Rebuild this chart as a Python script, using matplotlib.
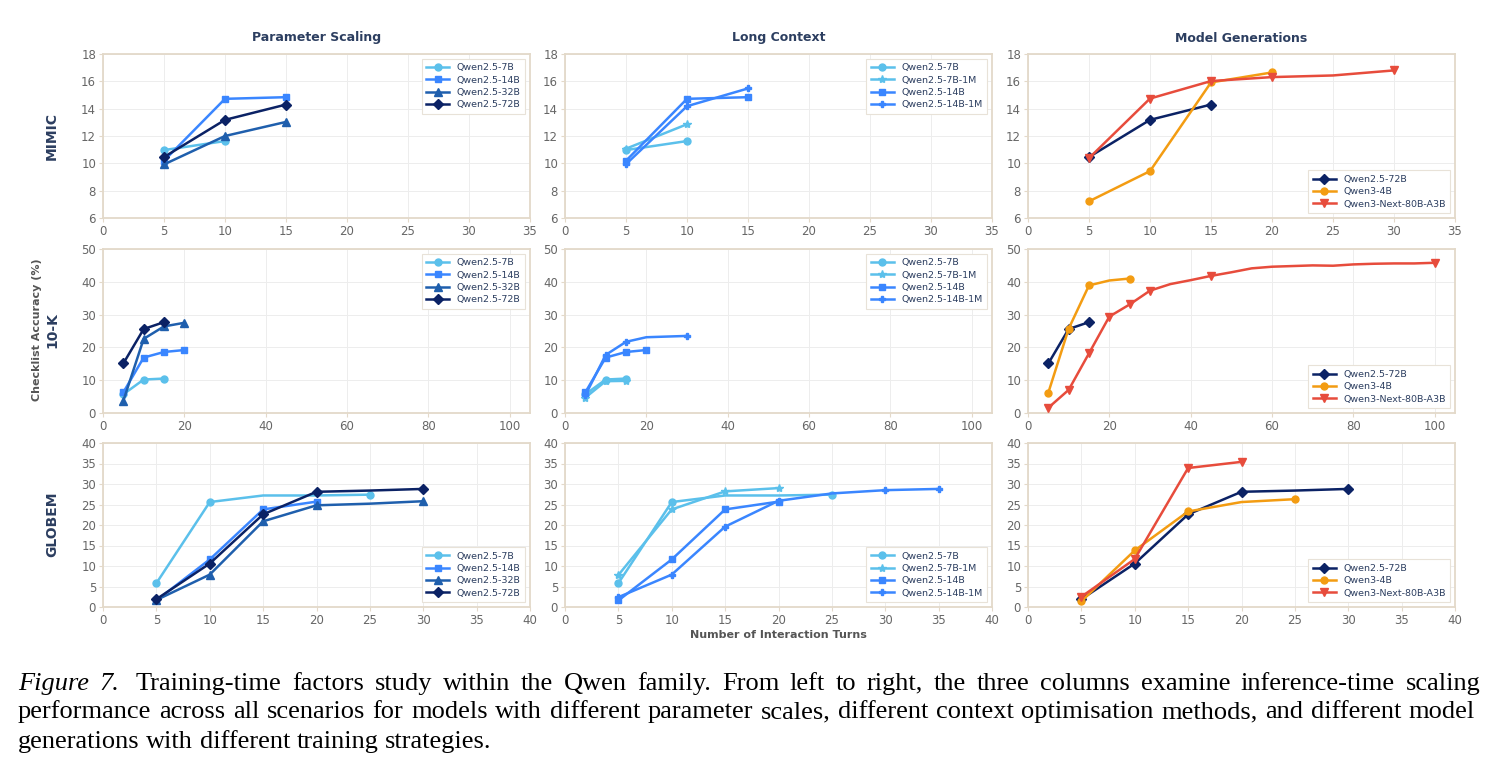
import matplotlib
matplotlib.use("Agg")
import matplotlib.pyplot as plt

# x positions (interaction turns)
turns = [5, 10, 15, 20, 25, 30, 35]
turns_10k_next = list(range(5, 105, 5))

# MIMIC
mimic_7b = [10.97, 11.63]
mimic_7b_1m = [11.07, 12.86]
mimic_14b = [10.19, 14.72, 14.84]
mimic_14b_1m = [9.94, 14.18, 15.48]
mimic_32b = [9.92, 12.0, 13.03]
mimic_72b = [10.46, 13.18, 14.3]
mimic_q3_4b = [7.22, 9.43, 15.92, 16.65]
mimic_next = [10.38, 14.74, 16.02, 16.31, 16.43, 16.8]

# 10-K
tenk_7b = [5.7, 10.2, 10.5]
tenk_7b_1m = [4.7, 9.7, 9.8]
tenk_14b = [6.3, 16.9, 18.6, 19.2]
tenk_14b_1m = [5.4, 17.7, 21.7, 23.1, 23.3, 23.5]
tenk_32b = [3.7, 22.6, 26.4, 27.5]
tenk_72b = [15.1, 25.6, 27.7]
tenk_q3_4b = [6.2, 25.7, 38.9, 40.4, 41.0]
tenk_next = [1.6, 7.05, 18.2, 29.4, 33.1, 37.3, 39.3, 40.5, 41.8, 42.9,
             44.1, 44.6, 44.8, 45.0, 44.9, 45.3, 45.5, 45.6, 45.6, 45.8]

# GLOBEM
globem_7b = [5.8, 25.6, 27.2, 27.2, 27.4]
globem_7b_1m = [7.8, 23.8, 28.2, 29.0]
globem_14b = [1.6, 11.6, 23.8, 25.7]
globem_14b_1m = [2.4, 7.9, 19.6, 25.9, 27.7, 28.5, 28.8]
globem_32b = [1.7, 7.9, 20.9, 24.8, 25.2, 25.8]
globem_72b = [1.9, 10.6, 22.6, 28.1, 28.4, 28.8]
globem_q3_4b = [1.4, 13.8, 23.3, 25.6, 26.3]
globem_next = [2.5, 11.7, 33.9, 35.4]

caption_lines = [
    'Training-time factors study within the Qwen family. From left to right, the three columns '
    'examine inference-time scaling',
    'performance across all scenarios for models with different parameter scales, different context '
    'optimisation methods, and different model',
    'generations with different training strategies.',
]

# model styles: colour, marker, marker size
styles = {
    'Qwen2.5-7B': ('#5BC0EB', 'o', 5),
    'Qwen2.5-7B-1M': ('#5BC0EB', '*', 6),
    'Qwen2.5-14B': ('#3A86FF', 's', 5),
    'Qwen2.5-14B-1M': ('#3A86FF', 'P', 5),
    'Qwen2.5-32B': ('#1F5FAD', '^', 5.5),
    'Qwen2.5-72B': ('#0B2265', 'D', 5),
    'Qwen3-4B': ('#F39C12', 'o', 5),
    'Qwen3-Next-80B-A3B': ('#E74C3C', 'v', 6),
}

NAVY = '#2C3E60'
GRAY = '#555555'
SPINE = '#E3D9C9'

fig = plt.figure(figsize=(14.91, 7.73), dpi=100)

lefts = [103, 565, 1028]
tops = [54, 249, 443]
W, H = 427, 164
axs = [[fig.add_axes([l / 1491, 1 - (t + H) / 773, W / 1491, H / 773]) for l in lefts] for t in tops]

# (name, x, y, markevery)
panels = [
    [
        [('Qwen2.5-7B', turns, mimic_7b, None), ('Qwen2.5-14B', turns, mimic_14b, None),
         ('Qwen2.5-32B', turns, mimic_32b, None), ('Qwen2.5-72B', turns, mimic_72b, None)],
        [('Qwen2.5-7B', turns, mimic_7b, None), ('Qwen2.5-7B-1M', turns, mimic_7b_1m, None),
         ('Qwen2.5-14B', turns, mimic_14b, None), ('Qwen2.5-14B-1M', turns, mimic_14b_1m, None)],
        [('Qwen2.5-72B', turns, mimic_72b, None), ('Qwen3-4B', turns, mimic_q3_4b, None),
         ('Qwen3-Next-80B-A3B', turns, mimic_next, [0, 1, 2, 3, 5])],
    ],
    [
        [('Qwen2.5-7B', turns, tenk_7b, None), ('Qwen2.5-14B', turns, tenk_14b, None),
         ('Qwen2.5-32B', turns, tenk_32b, None), ('Qwen2.5-72B', turns, tenk_72b, None)],
        [('Qwen2.5-7B', turns, tenk_7b, None), ('Qwen2.5-7B-1M', turns, tenk_7b_1m, None),
         ('Qwen2.5-14B', turns, tenk_14b, None), ('Qwen2.5-14B-1M', turns, tenk_14b_1m, [0, 1, 2, 5])],
        [('Qwen2.5-72B', turns, tenk_72b, None), ('Qwen3-4B', turns, tenk_q3_4b, [0, 1, 2, 4]),
         ('Qwen3-Next-80B-A3B', turns_10k_next, tenk_next, [0, 1, 2, 3, 4, 5, 8, 19])],
    ],
    [
        [('Qwen2.5-7B', turns, globem_7b, [0, 1, 4]), ('Qwen2.5-14B', turns, globem_14b, None),
         ('Qwen2.5-32B', turns, globem_32b, [0, 1, 2, 3, 5]), ('Qwen2.5-72B', turns, globem_72b, [0, 1, 2, 3, 5])],
        [('Qwen2.5-7B', turns, globem_7b, [0, 1, 4]), ('Qwen2.5-7B-1M', turns, globem_7b_1m, None),
         ('Qwen2.5-14B', turns, globem_14b, None), ('Qwen2.5-14B-1M', turns, globem_14b_1m, [0, 1, 2, 3, 5, 6])],
        [('Qwen2.5-72B', turns, globem_72b, [0, 1, 2, 3, 5]), ('Qwen3-4B', turns, globem_q3_4b, [0, 1, 2, 4]),
         ('Qwen3-Next-80B-A3B', turns, globem_next, None)],
    ],
]

xlims = [(0, 35), (0, 105), (0, 40)]
xticks = [range(0, 36, 5), range(0, 101, 20), range(0, 41, 5)]
ylims = [(6, 18), (0, 50), (0, 40)]
yticks = [range(6, 19, 2), range(0, 51, 10), range(0, 41, 5)]
legend_locs = [['upper right', 'upper right', 'lower right'],
               ['upper right', 'upper right', 'lower right'],
               ['lower right', 'lower right', 'lower right']]
col_titles = ['Parameter Scaling', 'Long Context', 'Model Generations']

for r in range(3):
    for c in range(3):
        ax = axs[r][c]
        for name, xs, ys, me in panels[r][c]:
            color, marker, ms = styles[name]
            ax.plot(xs[:len(ys)], ys, color=color, marker=marker, markersize=ms,
                    linewidth=1.8, markevery=me, label=name, zorder=3)
        ax.set_xlim(*xlims[r])
        ax.set_ylim(*ylims[r])
        ax.set_xticks(list(xticks[r]))
        ax.set_yticks(list(yticks[r]))
        ax.grid(True, color='#EDEDED', linewidth=0.7)
        ax.set_axisbelow(True)
        for s in ax.spines.values():
            s.set_color(SPINE)
            s.set_linewidth(1.3)
        ax.tick_params(labelsize=8.5, colors=SPINE, labelcolor='#666666', length=3, pad=2)
        leg = ax.legend(loc=legend_locs[r][c], fontsize=6.8, frameon=True, fancybox=False,
                        handlelength=2.4, borderpad=0.5, labelspacing=0.35, framealpha=1)
        leg.get_frame().set_edgecolor('#E8E2D8')
        leg.get_frame().set_linewidth(0.8)
        for t in leg.get_texts():
            t.set_color(NAVY)
        if r == 0:
            ax.set_title(col_titles[c], fontsize=9, fontweight='bold', color=NAVY, pad=9)

# row labels
fig.text(52 / 1491, 1 - 136 / 773, 'MIMIC', rotation=90, ha='center', va='center',
         fontsize=10, fontweight='bold', color=NAVY)
fig.text(52 / 1491, 1 - 330 / 773, '10-K', rotation=90, ha='center', va='center',
         fontsize=10, fontweight='bold', color=NAVY)
fig.text(37 / 1491, 1 - 330 / 773, 'Checklist Accuracy (%)', rotation=90, ha='center', va='center',
         fontsize=8, fontweight='bold', color=GRAY)
fig.text(52 / 1491, 1 - 524 / 773, 'GLOBEM', rotation=90, ha='center', va='center',
         fontsize=10, fontweight='bold', color=NAVY)
fig.text(778 / 1491, 1 - 635 / 773, 'Number of Interaction Turns', ha='center', va='center',
         fontsize=8, fontweight='bold', color=GRAY)

# caption, justified between x=18 and x=1475 px (last line ragged)
serif = 'Liberation Serif'
csize = 19
renderer = fig.canvas.get_renderer()
line_y = [684, 712, 742]
x_left, x_right = 18, 1475
for i, line in enumerate(caption_lines):
    words = [(w, 'normal') for w in line.split()]
    if i == 0:
        words = [('Figure', 'italic'), ('7.', 'italic')] + words
    texts = [fig.text(0, 1 - line_y[i] / 773, w, fontsize=csize, family=serif, style=st,
                      va='center', ha='left') for w, st in words]
    widths = [t.get_window_extent(renderer).width for t in texts]
    space = fig.text(0, 0, 'a b', fontsize=csize, family=serif).get_window_extent(renderer).width - \
        fig.text(0, 0, 'ab', fontsize=csize, family=serif).get_window_extent(renderer).width
    for a in fig.texts[-2:]:
        a.remove()
    if i < len(caption_lines) - 1:
        gap = (x_right - x_left - sum(widths)) / (len(words) - 1)
    else:
        gap = space
    x = x_left
    for j, (t, w) in enumerate(zip(texts, widths)):
        t.set_x(x / 1491)
        x += w + gap
        if i == 0 and j == 1:
            x += space * 0.8

fig.savefig('out.png', dpi=100)
